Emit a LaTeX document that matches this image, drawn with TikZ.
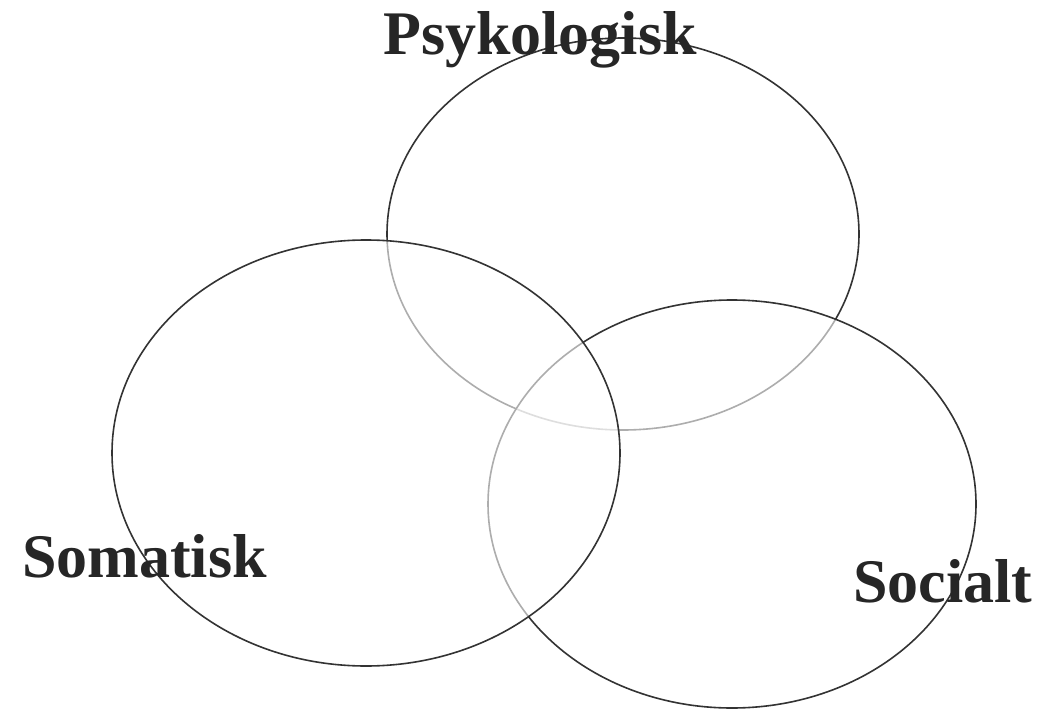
\documentclass[tikz,border=0pt]{standalone}
\usepackage{fontspec}
\setmainfont{Liberation Serif}
\usetikzlibrary{shapes.geometric}
\begin{document}
\begin{tikzpicture}[x=1pt,y=-1pt]

      \useasboundingbox (0,0) rectangle (1039,709);

      \begin{scope}[every node/.style={ellipse,draw=black!80,line width=1.6pt,
          fill=white,fill opacity=.6,inner sep=0pt}]
        \node[minimum width=472pt,minimum height=392pt] (psyk) at (623,234) {};
        \node[minimum width=488pt,minimum height=408pt] (soci) at (732,504) {};
        \node[minimum width=508pt,minimum height=426pt] (soma) at (366,453) {};
      \end{scope}

      \begin{scope}[every node/.style={anchor=base west,inner sep=0pt,text=black!85,
          font=\fontsize{62}{70}\selectfont\bfseries}]
        \node (psyklab) at (383,55)  {Psykologisk};
        \node (somalab) at (22,577)  {Somatisk};
        \node (socilab) at (853,602) {Socialt};
      \end{scope}

    \end{tikzpicture}
\end{document}
